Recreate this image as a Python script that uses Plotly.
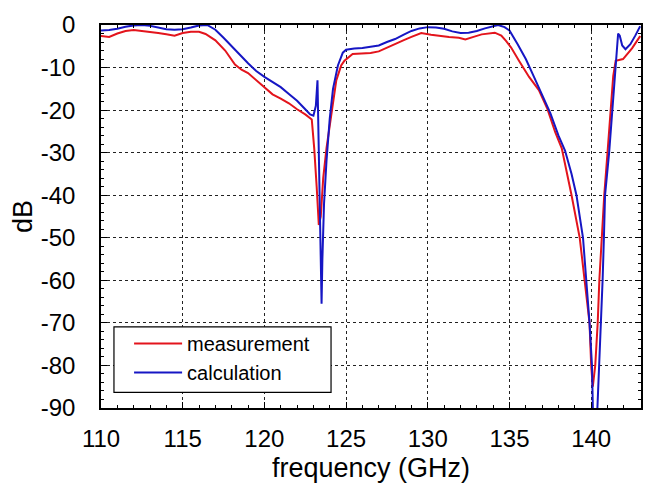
import plotly.graph_objects as go

# calculation (blue)
calc_freq = [110.0, 110.5, 111.0, 111.5, 112.0, 112.5, 113.0, 113.5, 114.0, 114.5, 115.0, 115.5,
             116.0, 116.5, 117.0, 117.5, 118.0, 118.5, 119.0, 119.5, 120.0, 120.5, 121.0, 121.5,
             122.0, 122.5, 122.8, 123.0, 123.15, 123.25, 123.32, 123.42, 123.5, 123.55, 123.65,
             123.8, 124.0, 124.2, 124.5, 124.8, 125.0, 125.5, 126.0, 126.5, 127.0, 127.5, 128.0,
             128.5, 129.0, 129.5, 130.0, 130.5, 131.0, 131.5, 132.0, 132.5, 133.0, 133.5, 134.0,
             134.3, 134.7, 135.0, 135.5, 136.0, 136.5, 137.0, 137.5, 138.0, 138.4, 138.8, 139.1,
             139.5, 139.7, 139.9, 140.05, 140.12, 140.35, 140.5, 140.6, 140.7, 140.78, 140.85,
             141.1, 141.3, 141.45, 141.55, 141.65, 141.75, 141.9, 142.1, 142.4, 142.7, 143.0]
calc_db = [-1.3, -1.2, -0.9, -0.4, -0.1, 0.0, -0.2, -0.6, -1.0, -1.1, -1.0, -0.6,
           -0.1, 0.0, -1.1, -3.0, -4.9, -7.0, -9.0, -10.8, -12.2, -13.4, -14.6, -16.2,
           -17.8, -19.8, -21.0, -21.3, -19.0, -13.0, -30.0, -55.0, -65.5, -55.0, -42.0,
           -32.0, -22.0, -15.0, -9.5, -6.5, -5.8, -5.5, -5.4, -5.1, -4.8, -4.0, -3.3,
           -2.3, -1.4, -0.8, -0.5, -0.6, -0.9, -1.5, -1.9, -1.8, -1.4, -0.8, -0.2,
           0.0, -0.5, -1.3, -4.5, -8.0, -12.2, -16.5, -20.7, -26.0, -29.5, -35.0, -40.0,
           -50.0, -60.0, -70.0, -80.0, -93.0, -93.0, -80.0, -70.0, -60.0, -50.0, -40.0,
           -30.0, -20.0, -12.0, -8.0, -2.0, -2.5, -4.8, -5.7, -4.5, -2.5, -0.3]

# measurement (red)
meas_freq = [110.0, 110.5, 111.0, 111.5, 112.0, 112.5, 113.0, 113.5, 114.0, 114.5, 115.0, 115.5,
             116.0, 116.4, 117.0, 117.6, 118.2, 118.6, 119.0, 119.5, 120.0, 120.5, 121.0, 121.5,
             122.0, 122.5, 122.9, 123.05, 123.2, 123.33, 123.45, 123.6, 123.8, 124.1, 124.4,
             124.7, 124.9, 125.4, 126.0, 126.5, 127.0, 127.5, 128.0, 128.5, 129.0, 129.6, 130.2,
             130.7, 131.3, 131.9, 132.3, 132.8, 133.3, 134.1, 134.5, 134.8, 135.1, 135.6, 136.2,
             136.8, 137.3, 137.8, 138.2, 138.8, 139.3, 139.6, 139.9, 140.0, 140.1, 140.25, 140.4,
             140.5, 140.65, 140.8, 141.0, 141.2, 141.35, 141.5, 141.95, 142.5, 143.0]
meas_db = [-2.6, -2.8, -2.0, -1.4, -1.2, -1.4, -1.7, -1.9, -2.2, -2.5, -1.9, -1.6,
           -1.6, -2.1, -3.6, -6.0, -9.3, -10.5, -11.3, -12.9, -14.6, -16.3, -17.3, -18.4,
           -19.8, -21.0, -22.2, -29.0, -38.0, -47.0, -45.0, -36.0, -29.0, -21.4, -13.0,
           -9.5, -8.4, -6.8, -6.7, -6.6, -6.2, -5.3, -4.5, -3.6, -2.8, -1.9, -2.3,
           -2.6, -2.8, -3.0, -3.4, -2.8, -2.2, -1.8, -2.5, -3.8, -5.3, -8.5, -12.2,
           -15.3, -19.5, -25.2, -29.0, -40.0, -50.0, -60.0, -70.0, -80.0, -85.0, -80.0, -70.0,
           -60.0, -50.0, -40.0, -30.0, -19.0, -12.0, -8.4, -8.0, -5.5, -2.6]

x_ticks = [110, 115, 120, 125, 130, 135, 140]
y_ticks = [0, -10, -20, -30, -40, -50, -60, -70, -80, -90]
y_tick_text = ["0", "-10", "-20", "-30", "-40", "-50", "-60", "-70", "-80", "-90"]

FONT = "Liberation Sans, Arial, sans-serif"

fig = go.Figure()
fig.add_trace(go.Scatter(x=meas_freq, y=meas_db, mode="lines", name="measurement",
                         line=dict(color="#e3141c", width=2)))
fig.add_trace(go.Scatter(x=calc_freq, y=calc_db, mode="lines", name="calculation",
                         line=dict(color="#1616c4", width=2)))

axis_common = dict(
    showline=True, linecolor="black", linewidth=1.5, mirror="allticks",
    ticks="inside", ticklen=6, tickcolor="black",
    showgrid=True, gridcolor="#222222", griddash="dot", gridwidth=1,
    zeroline=False, tickfont=dict(family=FONT, size=24, color="black"),
)

fig.update_xaxes(range=[110, 143.05], tickvals=x_ticks, ticklabelstandoff=8,
                 title=dict(text="frequency (GHz)", font=dict(family=FONT, size=27, color="black"), standoff=8),
                 minor=dict(dtick=1, ticks="inside", ticklen=3, tickcolor="black", showgrid=False),
                 **axis_common)
fig.update_yaxes(range=[-90, 0], tickvals=y_ticks, ticktext=y_tick_text, ticklabelstandoff=19,
                 title=dict(text="dB", font=dict(family=FONT, size=27, color="black"), standoff=0),
                 minor=dict(dtick=2, ticks="inside", ticklen=3, tickcolor="black", showgrid=False),
                 **axis_common)

# legend frame (white box with black border), legend entries drawn inside it
fig.add_shape(type="rect", xref="paper", yref="paper",
              x0=0.024, x1=0.426, y0=0.041, y1=0.212,
              fillcolor="white", line=dict(color="black", width=1.2), layer="above")

fig.update_layout(
    width=654, height=490,
    margin=dict(l=101, r=11, t=17, b=82),
    plot_bgcolor="white", paper_bgcolor="white",
    showlegend=True,
    legend=dict(x=0.052, y=0.219, xanchor="left", yanchor="top",
                bgcolor="rgba(0,0,0,0)", borderwidth=0,
                font=dict(family=FONT, size=20, color="black"),
                itemwidth=48, tracegroupgap=0),
)

fig.write_html("out.html")
